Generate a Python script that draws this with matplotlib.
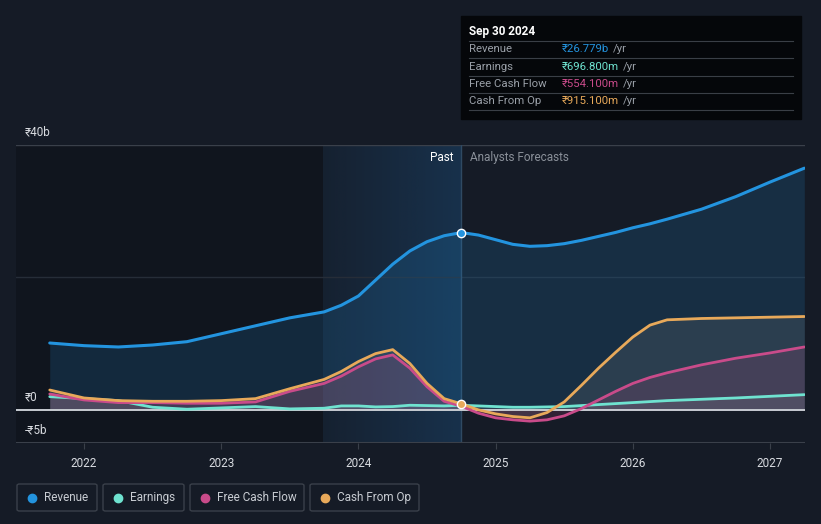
import matplotlib
matplotlib.use("Agg")
import matplotlib.pyplot as plt
import numpy as np
from matplotlib.patches import FancyBboxPatch, Rectangle
from matplotlib.lines import Line2D

plt.rcParams['font.family'] = ['Roboto', 'DejaVu Sans']

# data (decimal years, values in ₹ billions)
years = [2021.75, 2022.0, 2022.25, 2022.5, 2022.75, 2023.0, 2023.25, 2023.5, 2023.75,
         2023.875, 2024.0, 2024.125, 2024.25, 2024.375, 2024.5, 2024.625, 2024.75,
         2024.875, 2025.0, 2025.125, 2025.25, 2025.375, 2025.5, 2025.625, 2025.75,
         2025.875, 2026.0, 2026.125, 2026.25, 2026.5, 2026.75, 2027.0, 2027.25]
revenue = [10.1, 9.7, 9.5, 9.8, 10.3, 11.5, 12.7, 13.9, 14.8,
           15.8, 17.2, 19.6, 22.0, 24.0, 25.4, 26.3, 26.779,
           26.4, 25.7, 25.0, 24.7, 24.8, 25.1, 25.6, 26.2,
           26.8, 27.5, 28.1, 28.8, 30.3, 32.2, 34.4, 36.5]
earnings = [2.0, 1.7, 1.4, 0.4, 0.1, 0.3, 0.5, 0.15, 0.25,
            0.6, 0.6, 0.45, 0.5, 0.7, 0.65, 0.6, 0.697,
            0.6, 0.5, 0.4, 0.4, 0.45, 0.5, 0.65, 0.8,
            0.95, 1.1, 1.25, 1.4, 1.6, 1.8, 2.05, 2.3]
fcf = [2.4, 1.5, 1.1, 1.1, 1.0, 1.0, 1.2, 2.8, 4.0,
       5.1, 6.5, 7.7, 8.3, 6.3, 3.5, 1.3, 0.554,
       -0.5, -1.2, -1.5, -1.7, -1.5, -0.9, 0.2, 1.5,
       2.8, 4.0, 4.9, 5.6, 6.8, 7.8, 8.6, 9.5]
cfo = [3.0, 1.8, 1.4, 1.3, 1.3, 1.4, 1.7, 3.2, 4.6,
       5.8, 7.3, 8.5, 9.1, 7.0, 4.0, 1.7, 0.915,
       0.0, -0.6, -1.0, -1.2, -0.4, 1.2, 3.7, 6.3,
       8.7, 11.0, 12.8, 13.6, 13.8, 13.9, 14.0, 14.1]

tick_years = [2022, 2023, 2024, 2025, 2026, 2027]
y_ticks = [-5, 0, 40]
y_labels = ['-₹5b', '₹0', '₹40b']
band_start = 2023.745
past_end = 2024.75

c_rev = '#2394df'
c_earn = '#6fe3d0'
c_fcf = '#c94b8a'
c_cfo = '#e8a95a'
bg = '#151b26'

W, H = 821, 524
fig = plt.figure(figsize=(W / 100, H / 100), dpi=100, facecolor=bg)
ax = fig.add_axes([16 / W, (H - 443) / H, (805 - 16) / W, (443 - 145) / H])
ax.set_facecolor(bg)
ax.set_xlim(2021.504, 2027.255)
ax.set_ylim(-5, 40)

# background regions
ax.axvspan(2021.504, band_start, color='#0c0f15', alpha=0.45, lw=0, zorder=0)
grad = np.zeros((1, 200, 4))
grad[..., :3] = matplotlib.colors.to_rgb('#1c5080')
grad[..., 3] = np.linspace(0.12, 0.42, 200)
ax.imshow(grad, extent=[band_start, past_end, -5, 40], aspect='auto', zorder=0,
          interpolation='bilinear')
ax.set_xlim(2021.504, 2027.255)
ax.set_ylim(-5, 40)

# grid
ax.axhline(40, color='#3a404a', lw=1, zorder=1)
ax.axhline(20, color='#262d38', lw=1, zorder=1)
ax.axvline(past_end, color='#2f4a63', lw=1, zorder=1)

# fills
ax.fill_between(years, revenue, 0, color=c_rev, alpha=0.16, lw=0, zorder=2)
ax.fill_between(years, cfo, 0, color='#8a8a8a', alpha=0.18, lw=0, zorder=2)
ax.fill_between(years, fcf, 0, color=c_fcf, alpha=0.16, lw=0, zorder=2)
ax.fill_between(years, earnings, 0, color='#9aa0a8', alpha=0.15, lw=0, zorder=2)

ax.axhline(0, color='#c8ccd2', lw=1.4, zorder=3)

ax.plot(years, earnings, color=c_earn, lw=2, zorder=4, solid_capstyle='round')
ax.plot(years, fcf, color=c_fcf, lw=2, zorder=5, solid_capstyle='round')
ax.plot(years, cfo, color=c_cfo, lw=2, zorder=6, solid_capstyle='round')
ax.plot(years, revenue, color=c_rev, lw=2.2, zorder=7, solid_capstyle='round')

i = years.index(past_end)
ax.plot([past_end], [revenue[i]], 'o', ms=6, color=c_rev, mec='white', mew=1, zorder=8)
ax.plot([past_end], [cfo[i]], 'o', ms=6, color=c_cfo, mec='white', mew=1, zorder=8)

# axes styling
for s in ax.spines.values():
    s.set_visible(False)
ax.axhline(-5, color='#3a404a', lw=1.5, zorder=1)
ax.set_yticks([])
ax.set_xticks(tick_years)
ax.set_xticklabels([str(y) for y in tick_years], color='#d8dbe0', fontsize=8.5)
ax.tick_params(axis='x', length=4, color='#3a404a', pad=6)

for v, lab in zip(y_ticks, y_labels):
    ax.text(0.011, v + 0.9, lab, transform=ax.get_yaxis_transform(),
            color='#d8dbe0', fontsize=8.5, va='bottom', ha='left')

ax.text(past_end - 0.06, 38.1, 'Past', color='white', fontsize=8.5, ha='right', va='center')
ax.text(past_end + 0.06, 38.1, 'Analysts Forecasts', color='#8a9099', fontsize=8.5,
        ha='left', va='center')

# tooltip
def fx(px):
    return px / W

def fy(py):
    return 1 - py / H

fig.patches.append(Rectangle((fx(461), fy(119)), (801 - 461) / W, (119 - 16) / H,
                             transform=fig.transFigure, color='#05070a', zorder=10))
fig.text(fx(469), fy(31), 'Sep 30 2024', color='white', fontsize=8.5,
         fontweight='bold', va='center', zorder=11)
rows = [('Revenue', '₹26.779b', c_rev), ('Earnings', '₹696.800m', c_earn),
        ('Free Cash Flow', '₹554.100m', c_fcf), ('Cash From Op', '₹915.100m', c_cfo)]
renderer = fig.canvas.get_renderer()
for k, (name, val, col) in enumerate(rows):
    yy = 49 + k * 17.5
    fig.add_artist(Line2D([fx(469), fx(793)], [fy(yy - 8.5)] * 2, color='#3a3f46', lw=0.8, zorder=11))
    fig.text(fx(469), fy(yy), name, color='#9aa0a8', fontsize=8.2, va='center', zorder=11)
    t = fig.text(fx(562), fy(yy), val, color=col, fontsize=8.2, va='center', zorder=11)
    wpx = t.get_window_extent(renderer).width
    fig.text(fx(562 + wpx + 4), fy(yy), '/yr', color='#9aa0a8', fontsize=8.2,
             va='center', zorder=11)
fig.add_artist(Line2D([fx(469), fx(793)], [fy(110)] * 2, color='#3a3f46', lw=0.8, zorder=11))

# legend
legend = [('Revenue', c_rev, 17, 97), ('Earnings', c_earn, 103, 184),
          ('Free Cash Flow', c_fcf, 190, 304), ('Cash From Op', c_cfo, 310, 419)]
for name, col, x0, x1 in legend:
    fig.patches.append(FancyBboxPatch((fx(x0), fy(511)), (x1 - x0) / W, (511 - 484) / H,
                                      boxstyle='round,pad=0,rounding_size=0.003',
                                      transform=fig.transFigure, fc='none',
                                      ec='#3a404a', lw=1))
    fig.add_artist(Line2D([fx(x0 + 15)], [fy(497.5)], marker='o', ms=6, color=col, lw=0))
    fig.text(fx(x0 + 27), fy(497.5), name, color='#c8ccd2', fontsize=8.5, va='center')

fig.savefig('out.png', dpi=100, facecolor=bg)
